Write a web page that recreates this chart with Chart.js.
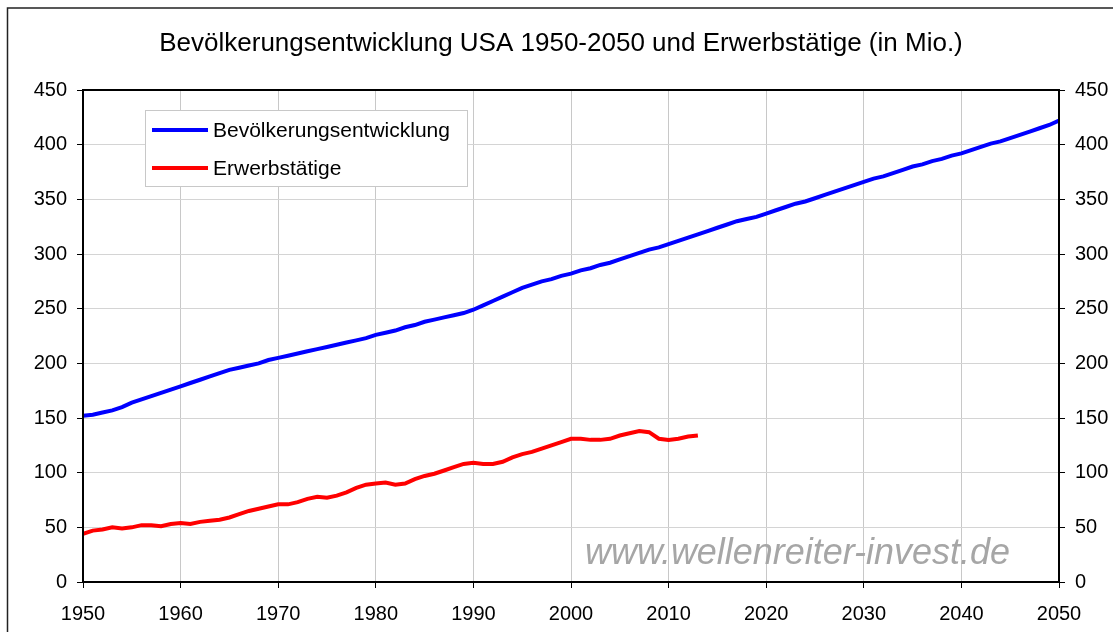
<!DOCTYPE html>
<html>
<head>
<meta charset="utf-8">
<script src="https://cdn.jsdelivr.net/npm/chart.js@4/dist/chart.umd.min.js"></script>
<style>
body { margin:0; background:#fff; }
canvas { display:block; }
</style>
</head>
<body>
<canvas id="chart1" width="1113" height="632"></canvas>
<script>
var titel = "Bevölkerungsentwicklung USA 1950-2050 und Erwerbstätige (in Mio.)";
var labelBev = "Bevölkerungsentwicklung";
var labelErw = "Erwerbstätige";
var wasserzeichen = "www.wellenreiter-invest.de";

var jahreBev = [];
for (var j = 1950; j <= 2050; j++) jahreBev.push(j);
var bevoelkerung = [152,153,155,157,160,164,167,170,173,176,
	179,182,185,188,191,194,196,198,200,203,
	205,207,209,211,213,215,217,219,221,223,
	226,228,230,233,235,238,240,242,244,246,
	249,253,257,261,265,269,272,275,277,280,
	282,285,287,290,292,295,298,301,304,306,
	309,312,315,318,321,324,327,330,332,334,
	337,340,343,346,348,351,354,357,360,363,
	366,369,371,374,377,380,382,385,387,390,
	392,395,398,401,403,406,409,412,415,418,
	422];

var jahreErw = [];
for (var k = 1950; k <= 2013; k++) jahreErw.push(k);
var erwerbstaetige = [44,47,48,50,49,50,52,52,51,53,
	54,53,55,56,57,59,62,65,67,69,
	71,71,73,76,78,77,79,82,86,89,
	90,91,89,90,94,97,99,102,105,108,
	109,108,108,110,114,117,119,122,125,128,
	131,131,130,130,131,134,136,138,137,131,
	130,131,133,134];

var yTicks = [0,50,100,150,200,250,300,350,400,450];

function punkte(xs, ys) {
	var r = [];
	for (var i = 0; i < xs.length; i++) r.push({x: xs[i], y: ys[i]});
	return r;
}

var schrift = "Arial, 'Liberation Sans', sans-serif";

var extras = {
	id: 'extras',
	beforeDraw: function(chart) {
		var ctx = chart.ctx;
		ctx.save();
		ctx.fillStyle = '#fff';
		ctx.fillRect(0, 0, chart.width, chart.height);
		ctx.restore();
	},
	afterDatasetsDraw: function(chart) {
		var ctx = chart.ctx;
		var a = chart.chartArea;
		ctx.save();
		// rahmen plotbereich
		ctx.strokeStyle = '#000';
		ctx.lineWidth = 2;
		ctx.strokeRect(a.left, a.top, a.right - a.left, a.bottom - a.top);

		// wasserzeichen
		ctx.font = "italic 36px " + schrift;
		ctx.fillStyle = '#a6a6a6';
		ctx.textBaseline = 'alphabetic';
		var w = ctx.measureText(wasserzeichen).width;
		ctx.translate(a.left + 502, a.bottom - 18);
		ctx.scale(425 / w, 1);
		ctx.fillText(wasserzeichen, 0, 0);
		ctx.restore();

		// legende
		ctx.save();
		var lx = a.left + 62, ly = a.top + 20;
		ctx.fillStyle = '#fff';
		ctx.fillRect(lx, ly, 322, 76);
		ctx.strokeStyle = '#c8c8c8';
		ctx.lineWidth = 1;
		ctx.strokeRect(lx + 0.5, ly + 0.5, 322, 76);
		var ds = chart.data.datasets;
		ctx.font = "21px " + schrift;
		ctx.textBaseline = 'middle';
		for (var i = 0; i < ds.length; i++) {
			var yy = ly + 20 + i * 38;
			ctx.strokeStyle = ds[i].borderColor;
			ctx.lineWidth = 4;
			ctx.beginPath();
			ctx.moveTo(lx + 7, yy);
			ctx.lineTo(lx + 63, yy);
			ctx.stroke();
			ctx.fillStyle = '#000';
			ctx.fillText(ds[i].label, lx + 68, yy + 1);
		}
		ctx.restore();

		// titel
		ctx.save();
		ctx.font = "26px " + schrift;
		ctx.fillStyle = '#000';
		ctx.textAlign = 'center';
		ctx.textBaseline = 'alphabetic';
		ctx.fillText(titel, 561, 51);
		// aeusserer rahmen
		ctx.strokeStyle = '#222';
		ctx.lineWidth = 1.5;
		ctx.strokeRect(7.5, 8, chart.width + 10, chart.height + 10);
		ctx.restore();
	}
};

new Chart(document.getElementById("chart1"), {
	type: 'line',
	data: {
		datasets: [{
			label: labelBev,
			data: punkte(jahreBev, bevoelkerung),
			borderColor: "#0000ff",
			borderWidth: 4,
			pointRadius: 0,
			fill: false
		}, {
			label: labelErw,
			data: punkte(jahreErw, erwerbstaetige),
			borderColor: "#ff0000",
			borderWidth: 4,
			pointRadius: 0,
			fill: false
		}]
	},
	options: {
		responsive: false,
		animation: false,
		layout: { padding: { top: 90, left: 0, right: 0, bottom: 0 } },
		plugins: {
			legend: { display: false },
			title: { display: false },
			tooltip: { enabled: false }
		},
		scales: {
			x: {
				type: 'linear',
				min: 1950, max: 2050,
				afterFit: function(s) { s.height = 50; },
				ticks: {
					stepSize: 10,
					color: '#000',
					padding: 14,
					maxRotation: 0,
					font: { family: schrift, size: 20 },
					callback: function(v) { return String(v); }
				},
				grid: { color: '#c8c8c8', tickColor: '#000', tickLength: 6 },
				border: { color: '#000', width: 2 }
			},
			y: {
				position: 'left',
				min: 0, max: 450,
				afterFit: function(s) { s.width = 83; },
				afterBuildTicks: function(s) { s.ticks = yTicks.map(function(v) { return {value: v}; }); },
				ticks: { color: '#000', padding: 10, font: { family: schrift, size: 20 } },
				grid: { color: '#d4d4d4', tickColor: '#000', tickLength: 6 },
				border: { color: '#000', width: 2 }
			},
			y2: {
				position: 'right',
				min: 0, max: 450,
				afterFit: function(s) { s.width = 54; },
				afterBuildTicks: function(s) { s.ticks = yTicks.map(function(v) { return {value: v}; }); },
				ticks: { color: '#000', padding: 10, font: { family: schrift, size: 20 } },
				grid: { drawOnChartArea: false, tickColor: '#000', tickLength: 6 },
				border: { color: '#000', width: 2 }
			}
		}
	},
	plugins: [extras]
});
</script>
</body>
</html>
